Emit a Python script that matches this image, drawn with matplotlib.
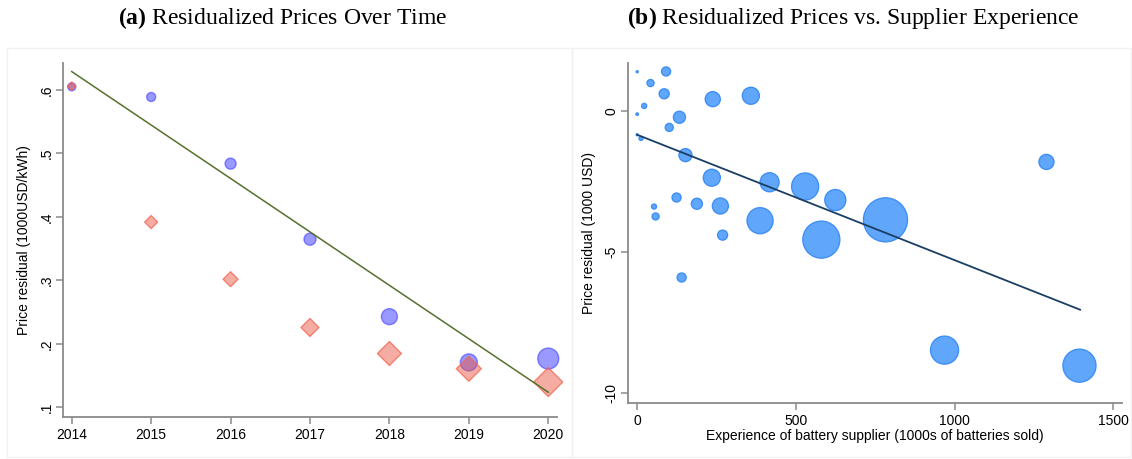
import matplotlib
matplotlib.use("Agg")
import matplotlib.pyplot as plt
from matplotlib.patches import Rectangle
import numpy as np

# ---------------- data ----------------
years = [2014, 2015, 2016, 2017, 2018, 2019, 2020]
resid_circle = [0.605, 0.589, 0.484, 0.365, 0.243, 0.171, 0.177]
weight_circle = [64, 81, 121, 144, 256, 289, 441]
resid_diamond = [0.606, 0.392, 0.302, 0.226, 0.185, 0.161, 0.140]
weight_diamond = [72, 169, 225, 324, 576, 625, 841]
fit_years = [2014, 2020]
fit_time = [0.629, 0.124]
ytick_vals_a = [0.1, 0.2, 0.3, 0.4, 0.5, 0.6]
ytick_labels_a = [".1", ".2", ".3", ".4", ".5", ".6"]

experience = [0, 91, 42, 85, 22, 0, 238, 358, 133, 101, 0, 12, 152, 235, 417,
              529, 624, 124, 188, 262, 53, 58, 387, 580, 269, 140, 782, 1289,
              968, 1393]
resid_sup = [1.38, 1.39, 0.98, 0.60, 0.17, -0.12, 0.41, 0.53, -0.23, -0.59,
             -0.85, -0.98, -1.57, -2.37, -2.53, -2.68, -3.16, -3.07, -3.29,
             -3.37, -3.39, -3.74, -3.89, -4.56, -4.40, -5.90, -3.86, -1.81,
             -8.47, -9.02]
weight_sup = [4, 81, 49, 100, 25, 6, 225, 289, 144, 64, 4, 16, 169, 289, 361,
              729, 441, 81, 121, 256, 25, 49, 676, 1369, 100, 81, 1936, 225,
              784, 1089]
fit_exp = [0, 1395]
fit_sup = [-0.85, -7.04]

# ---------------- style ----------------
plt.rcParams['font.family'] = ['Liberation Sans', 'DejaVu Sans']
plt.rcParams['mathtext.fontset'] = 'custom'
plt.rcParams['mathtext.rm'] = 'Liberation Serif'
plt.rcParams['mathtext.bf'] = 'Liberation Serif:bold'

W, H = 1132, 459
fig = plt.figure(figsize=(W / 100, H / 100), dpi=100)

# faint panel frames
for (x0, x1) in [(7, 572), (572, 1131)]:
    fig.patches.append(Rectangle((x0 / W, (H - 457) / H), (x1 - x0) / W, (457 - 48) / H,
                                 transform=fig.transFigure, fill=False,
                                 edgecolor='#f1f1f1', linewidth=1.0))

px2pt = 0.72


def style_axes(ax):
    for s in ['top', 'right']:
        ax.spines[s].set_visible(False)
    for s in ['left', 'bottom']:
        ax.spines[s].set_color('#8a8a8a')
        ax.spines[s].set_linewidth(1.3)
    ax.tick_params(axis='both', colors='#8a8a8a', labelcolor='black',
                   length=5, width=1.1, labelsize=10, direction='out')
    ax.tick_params(axis='y', pad=2)
    ax.tick_params(axis='x', pad=3)
    for lab in ax.get_yticklabels():
        lab.set_rotation(90)
        lab.set_va('center')


# ---------------- panel (a) ----------------
ax1 = fig.add_axes([63 / W, (H - 417) / H, (557 - 63) / W, (417 - 62.7) / H])
ax1.scatter(years, resid_circle, s=[(px2pt) ** 2 * w for w in weight_circle],
            marker='o', facecolor=(0.0, 0.0, 1.0, 0.40),
            edgecolor=(0.2, 0.2, 1.0, 0.55), linewidth=1.0, zorder=3, clip_on=False)
ax1.scatter(years, resid_diamond, s=[(px2pt / 1.414) ** 2 * w for w in weight_diamond],
            marker='D', facecolor=(0.92, 0.33, 0.25, 0.48),
            edgecolor=(0.94, 0.40, 0.33, 0.75), linewidth=1.0, zorder=4, clip_on=False)
ax1.plot(fit_years, fit_time, color='#56702f', linewidth=1.1, zorder=5)
ax1.set_xlim(2013.89, 2020.11)
ax1.set_ylim(0.085, 0.643)
ax1.set_xticks(years)
ax1.set_yticks(ytick_vals_a)
ax1.set_yticklabels(ytick_labels_a)
ax1.set_ylabel("Price residual (1000USD/kWh)", fontsize=10, labelpad=6)
style_axes(ax1)

# ---------------- panel (b) ----------------
ax2 = fig.add_axes([628.3 / W, (H - 402.7) / H, (1121.7 - 628.3) / W, (402.7 - 62.7) / H])
ax2.scatter(experience, resid_sup, s=[(px2pt) ** 2 * w for w in weight_sup],
            marker='o', facecolor='#60a6fb', edgecolor='#3f90f5',
            linewidth=1.0, zorder=3, clip_on=False)
ax2.plot(fit_exp, fit_sup, color='#1b3f63', linewidth=1.3, zorder=5)
ax2.set_xlim(-28, 1526)
ax2.set_ylim(-10.33, 1.70)
ax2.set_xticks([0, 500, 1000, 1500])
ax2.set_yticks([-10, -5, 0])
ax2.set_yticklabels(["-10", "-5", "0"])
ax2.set_xlabel("Experience of battery supplier (1000s of batteries sold)",
               fontsize=10, labelpad=1)
ax2.set_ylabel("Price residual (1000 USD)", fontsize=10, labelpad=6)
style_axes(ax2)

# ---------------- titles ----------------
fig.text(283 / W, 1 - 18 / H, r"$\mathbf{(a)}$ Residualized Prices Over Time",
         family='Liberation Serif', fontsize=17, ha='center', va='center')
fig.text(853 / W, 1 - 18 / H, r"$\mathbf{(b)}$ Residualized Prices vs. Supplier Experience",
         family='Liberation Serif', fontsize=17, ha='center', va='center')

fig.savefig("out.png", dpi=100, facecolor='white')
